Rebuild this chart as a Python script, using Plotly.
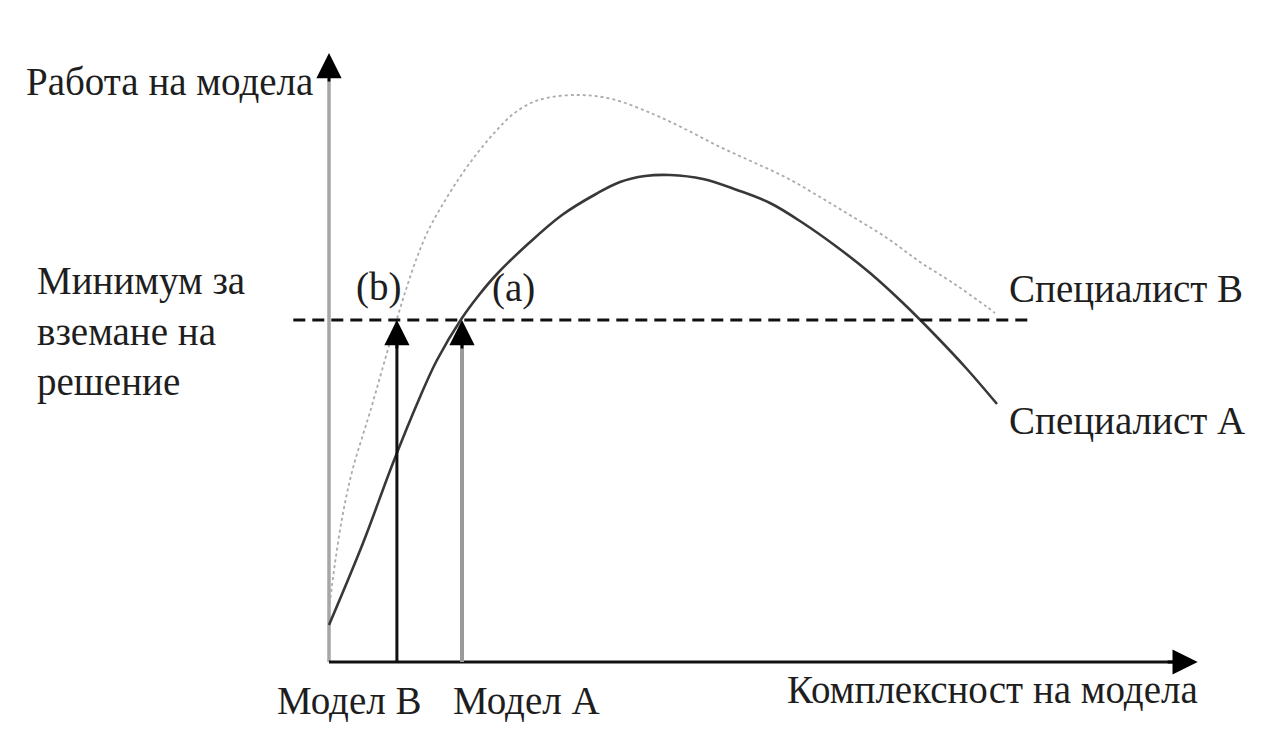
import plotly.graph_objects as go

# ---- data (complexity, performance) ----
spec_a_x = [0, 4.86, 9.14, 13.0, 15.43, 19.0, 21.43, 23.86, 28.57, 33.29, 38.14, 41.57,
            45.14, 48.71, 53.43, 58.29, 63.0, 67.71, 72.57, 77.29, 82.0, 86.57, 91.0, 95.43]
spec_a_y = [6.17, 19.83, 33.17, 44.17, 50.33, 57.33, 61.17, 64.5, 69.83, 74.5, 78.0, 80.0,
            81.0, 81.17, 80.5, 78.67, 76.5, 73.17, 69.17, 64.83, 59.83, 54.5, 49.0, 43.0]

spec_b_x = [0, 0.86, 2.0, 3.43, 5.86, 9.57, 12.43, 14.29, 16.71, 19.0, 21.43, 23.86, 26.14,
            28.57, 31.0, 35.71, 40.43, 46.29, 51.14, 55.86, 60.57, 65.43, 70.14, 74.86,
            79.71, 84.43, 89.14, 94.0, 95.14]
spec_b_y = [8.67, 16.5, 24.83, 32.33, 41.67, 56.67, 67.0, 72.17, 77.17, 81.33, 85.17, 88.5, 91.17,
            93.0, 94.0, 94.5, 93.83, 91.33, 88.67, 85.83, 83.33, 80.67, 77.5, 74.17,
            70.67, 66.67, 63.17, 59.17, 58.17]

threshold = 57.0
threshold_span = [-5.1, 99.9]
model_b_x = 9.7
model_a_x = 19.0
x_axis_end = 124.1
y_axis_end = 101.5

labels = {
    "y_title": "Работа на модела",
    "x_title": "Комплексност на модела",
    "threshold": "Минимум за<br>вземане на<br>решение",
    "spec_a": "Специалист А",
    "spec_b": "Специалист В",
    "model_a": "Модел А",
    "model_b": "Модел В",
    "pt_a": "(a)",
    "pt_b": "(b)",
}

# ---- pixel helpers for layout (origin at px 329,662; 7 px / x unit, 6 px / y unit) ----
OX, OY, SX, SY = 329, 662, 7.0, 6.0
W, H = 1263, 736
PAGE = 8  # body margin of the page


def dx(px):
    return (px - OX) / SX


def dy(py):
    return (OY - py) / SY


FONT = dict(family="Liberation Serif", size=39, color="#1e1e1e")

fig = go.Figure()

# y axis (gray) and x axis (black)
fig.add_trace(go.Scatter(x=[0, 0], y=[0, y_axis_end - 3], mode="lines",
                         line=dict(color="#a6a6a6", width=3.5), hoverinfo="skip"))
fig.add_trace(go.Scatter(x=[0, x_axis_end - 2.5], y=[0, 0], mode="lines",
                         line=dict(color="#111111", width=3), hoverinfo="skip"))

# Specialist B (dotted light)
fig.add_trace(go.Scatter(x=spec_b_x, y=spec_b_y, mode="lines",
                         line=dict(color="#ababab", width=1.8, dash="dot", shape="spline", smoothing=1.0),
                         hoverinfo="skip"))
# Specialist A (solid)
fig.add_trace(go.Scatter(x=spec_a_x, y=spec_a_y, mode="lines",
                         line=dict(color="#383838", width=2.6, shape="spline", smoothing=1.0),
                         hoverinfo="skip"))

# threshold dashed line
fig.add_trace(go.Scatter(x=threshold_span, y=[threshold, threshold], mode="lines",
                         line=dict(color="#111111", width=3, dash="12px,7px"), hoverinfo="skip"))

# model arrow shafts
fig.add_trace(go.Scatter(x=[model_b_x, model_b_x], y=[0, threshold - 3], mode="lines",
                         line=dict(color="#111111", width=3), hoverinfo="skip"))
fig.add_trace(go.Scatter(x=[model_a_x, model_a_x], y=[0, threshold - 3], mode="lines",
                         line=dict(color="#9a9a9a", width=4), hoverinfo="skip"))

annotations = []


def head(x, y, ax, ay):
    annotations.append(dict(x=x, y=y, ax=ax, ay=ay, xref="x", yref="y", axref="x", ayref="y",
                            text="", showarrow=True, arrowhead=2, arrowsize=1.8,
                            arrowwidth=2.8, arrowcolor="#000000", standoff=0))


head(model_b_x, threshold, model_b_x, threshold - 5)
head(model_a_x, threshold, model_a_x, threshold - 5)
head(0, y_axis_end, 0, y_axis_end - 5)
head(x_axis_end, 0, x_axis_end - 4.5, 0)


def label(text, px, py, xanchor="left", align="left"):
    annotations.append(dict(x=dx(px), y=dy(py), xref="x", yref="y", text=text, showarrow=False,
                            xanchor=xanchor, yanchor="middle", align=align, font=FONT))


label(labels["y_title"], 24, 81)
label(labels["threshold"], 35, 331)
label(labels["pt_b"], 378, 287, xanchor="center")
label(labels["pt_a"], 513, 288, xanchor="center")
label(labels["spec_b"], 1007, 288)
label(labels["spec_a"], 1007, 420)
label(labels["model_b"], 349, 700, xanchor="center")
label(labels["model_a"], 526, 700, xanchor="center")
label(labels["x_title"], 992, 689, xanchor="center")

fig.update_layout(
    width=W - PAGE, height=H - PAGE,
    margin=dict(l=0, r=0, t=0, b=0),
    paper_bgcolor="white", plot_bgcolor="white",
    showlegend=False,
    xaxis=dict(range=[dx(PAGE), dx(W)], visible=False, fixedrange=True),
    yaxis=dict(range=[dy(H), dy(PAGE)], visible=False, fixedrange=True),
    annotations=annotations,
)

fig.write_html("out.html", config={"displayModeBar": False})
